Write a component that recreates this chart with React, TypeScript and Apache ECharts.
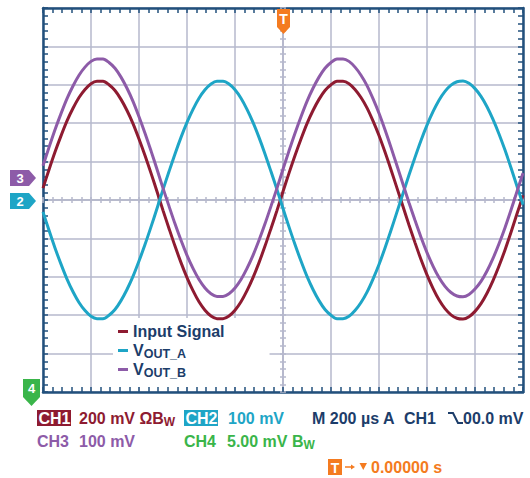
import React, { useEffect, useRef } from "react";
import * as echarts from "echarts";

// Time axis (µs), trigger at 0, 200 µs/div
const timeUs = [
  -1000, -975, -950, -925, -900, -875, -850, -825, -800, -775,
  -750, -725, -700, -675, -650, -625, -600, -575, -550, -525,
  -500, -475, -450, -425, -400, -375, -350, -325, -300, -275,
  -250, -225, -200, -175, -150, -125, -100, -75, -50, -25,
  0, 25, 50, 75, 100, 125, 150, 175, 200, 225,
  250, 275, 300, 325, 350, 375, 400, 425, 450, 475,
  500, 525, 550, 575, 600, 625, 650, 675, 700, 725,
  750, 775, 800, 825, 850, 875, 900, 925, 950, 975,
  1000,
];

// Values in screen divisions
const inputSignal = [
  0.31, 0.79, 1.25, 1.67, 2.06, 2.39, 2.67, 2.88, 3.03, 3.09,
  3.09, 3.0, 2.85, 2.62, 2.33, 1.99, 1.59, 1.16, 0.7, 0.22,
  -0.27, -0.74, -1.2, -1.63, -2.02, -2.36, -2.65, -2.87, -3.02, -3.09,
  -3.09, -3.02, -2.87, -2.65, -2.36, -2.02, -1.63, -1.2, -0.74, -0.27,
  0.22, 0.7, 1.16, 1.59, 1.99, 2.33, 2.62, 2.85, 3.0, 3.09,
  3.09, 3.03, 2.88, 2.67, 2.4, 2.06, 1.68, 1.25, 0.79, 0.31,
  -0.17, -0.65, -1.11, -1.55, -1.95, -2.3, -2.6, -2.83, -2.99, -3.08,
  -3.1, -3.04, -2.9, -2.7, -2.43, -2.1, -1.72, -1.3, -0.84, -0.36,
  0.12,
];
const voutA = [
  -0.31, -0.79, -1.25, -1.67, -2.06, -2.39, -2.67, -2.88, -3.03, -3.09,
  -3.09, -3.0, -2.85, -2.62, -2.33, -1.99, -1.59, -1.16, -0.7, -0.22,
  0.27, 0.74, 1.2, 1.63, 2.02, 2.36, 2.65, 2.87, 3.02, 3.09,
  3.09, 3.02, 2.87, 2.65, 2.36, 2.02, 1.63, 1.2, 0.74, 0.27,
  -0.22, -0.7, -1.16, -1.59, -1.99, -2.33, -2.62, -2.85, -3.0, -3.09,
  -3.09, -3.03, -2.88, -2.67, -2.4, -2.06, -1.68, -1.25, -0.79, -0.31,
  0.17, 0.65, 1.11, 1.55, 1.95, 2.3, 2.6, 2.83, 2.99, 3.08,
  3.1, 3.04, 2.9, 2.7, 2.43, 2.1, 1.72, 1.3, 0.84, 0.36,
  -0.12,
];
const voutB = [
  0.89, 1.37, 1.83, 2.25, 2.64, 2.97, 3.25, 3.46, 3.61, 3.67,
  3.67, 3.58, 3.43, 3.2, 2.91, 2.57, 2.17, 1.74, 1.28, 0.8,
  0.31, -0.16, -0.62, -1.05, -1.44, -1.78, -2.07, -2.29, -2.44, -2.51,
  -2.51, -2.44, -2.29, -2.07, -1.78, -1.44, -1.05, -0.62, -0.16, 0.31,
  0.8, 1.28, 1.74, 2.17, 2.57, 2.91, 3.2, 3.43, 3.58, 3.67,
  3.67, 3.61, 3.46, 3.25, 2.98, 2.64, 2.26, 1.83, 1.37, 0.89,
  0.41, -0.07, -0.53, -0.97, -1.37, -1.72, -2.02, -2.25, -2.41, -2.5,
  -2.52, -2.46, -2.32, -2.12, -1.85, -1.52, -1.14, -0.72, -0.26, 0.22,
  0.7,
];

const seriesNames = ["Input Signal", "VOUT_A", "VOUT_B"];
const xRange = [-1000, 1000];
const xStep = 200;
const yRange = [-5, 5];
const yStep = 1;

const FONT = "'Liberation Sans', Arial, Helvetica, sans-serif";
const INK = "#1c3d6a";
const BORDER = "#22507c";
const GRID = "#b6b9cc";
const RED = "#8e1b31";
const CYAN = "#1ea5c6";
const PURPLE = "#8d5ba8";
const GREEN = "#3ab54a";
const ORANGE = "#f47b20";

function txt(x: number, y: number, text: string, fill: string, extra: any = {}) {
  return {
    type: "text",
    z: 20,
    style: {
      x,
      y,
      text,
      fill,
      fontFamily: FONT,
      fontWeight: "bold",
      fontSize: 16,
      verticalAlign: "middle",
      align: "left",
      ...extra,
    },
  };
}

function subText(x: number, y: number, main: string, sub: string, fill: string) {
  return {
    type: "text",
    z: 20,
    style: {
      x,
      y,
      text: main + "{w|" + sub + "}",
      fill,
      fontFamily: FONT,
      fontWeight: "bold",
      fontSize: 16,
      lineHeight: 20,
      verticalAlign: "middle",
      align: "left",
      rich: {
        w: {
          fontFamily: FONT,
          fontWeight: "bold",
          fontSize: 12,
          lineHeight: 10,
          fill,
          verticalAlign: "bottom",
        },
      },
    },
  };
}

function box(x: number, y: number, w: number, h: number, fill: string) {
  return { type: "rect", z: 19, shape: { x, y, width: w, height: h }, style: { fill } };
}

function poly(points: number[][], fill: string) {
  return { type: "polygon", z: 19, shape: { points }, style: { fill } };
}

const borderX = (position: string) => ({
  type: "value",
  position,
  min: xRange[0],
  max: xRange[1],
  interval: xStep,
  axisLine: { show: true, onZero: false, lineStyle: { color: BORDER, width: 2.5 } },
  axisTick: { show: true, inside: true, length: 5, lineStyle: { color: BORDER, width: 1.5 } },
  minorTick: { show: true, splitNumber: 5, length: 5, lineStyle: { color: BORDER, width: 1.5 } },
  axisLabel: { show: false },
  splitLine: { show: position === "bottom", lineStyle: { color: GRID, width: 1.5 } },
});

const borderY = (position: string) => ({
  type: "value",
  position,
  min: yRange[0],
  max: yRange[1],
  interval: yStep,
  axisLine: { show: true, onZero: false, lineStyle: { color: BORDER, width: 2.5 } },
  axisTick: { show: true, inside: true, length: 5, lineStyle: { color: BORDER, width: 1.5 } },
  minorTick: { show: true, splitNumber: 5, length: 5, lineStyle: { color: BORDER, width: 1.5 } },
  axisLabel: { show: false },
  splitLine: { show: position === "left", lineStyle: { color: GRID, width: 1.5 } },
});

const crossX = (inside: boolean) => ({
  type: "value",
  position: "bottom",
  min: xRange[0],
  max: xRange[1],
  interval: xStep,
  axisLine: { show: true, onZero: true, onZeroAxisIndex: 0, lineStyle: { color: GRID, width: 1.5 } },
  axisTick: { show: true, inside, length: 3, lineStyle: { color: GRID, width: 1.5 } },
  minorTick: { show: true, splitNumber: 5, length: 3, lineStyle: { color: GRID, width: 1.5 } },
  axisLabel: { show: false },
  splitLine: { show: false },
});

const crossY = (inside: boolean) => ({
  type: "value",
  position: "left",
  min: yRange[0],
  max: yRange[1],
  interval: yStep,
  axisLine: { show: true, onZero: true, onZeroAxisIndex: 0, lineStyle: { color: GRID, width: 1.5 } },
  axisTick: { show: true, inside, length: 3, lineStyle: { color: GRID, width: 1.5 } },
  minorTick: { show: true, splitNumber: 5, length: 3, lineStyle: { color: GRID, width: 1.5 } },
  axisLabel: { show: false },
  splitLine: { show: false },
});

export default function App() {
  const ref = useRef<HTMLDivElement>(null);

  useEffect(() => {
    if (!ref.current) return;
    const chart = echarts.init(ref.current, null, { renderer: "svg" });
    const values = [inputSignal, voutA, voutB];
    const colors = [RED, CYAN, PURPLE];

    const graphic: any[] = [
      // trigger marker (top)
      poly([[277, 9], [290, 9], [290, 27], [283.5, 34], [277, 27]], ORANGE),
      txt(283.5, 18.5, "T", "#fff", { align: "center", fontSize: 14 }),
      // channel 3 / 2 ground markers
      poly([[10, 170], [29, 170], [36, 178], [29, 186], [10, 186]], PURPLE),
      txt(20, 178.5, "3", "#fff", { align: "center", fontSize: 13 }),
      poly([[10, 193], [29, 193], [36, 201], [29, 209], [10, 209]], CYAN),
      txt(20, 201.5, "2", "#fff", { align: "center", fontSize: 13 }),
      // channel 4 marker
      poly([[23, 379], [40, 379], [40, 397], [31.5, 406], [23, 397]], GREEN),
      txt(31.5, 388.5, "4", "#fff", { align: "center", fontSize: 13 }),

      // line 1
      box(37, 410, 34, 16, RED),
      txt(38.5, 418.5, "CH1", "#fff"),
      subText(79, 418, "200 mV ΩB", "W", RED),
      box(184, 410, 34, 16, CYAN),
      txt(185.5, 418.5, "CH2", "#fff"),
      txt(228, 418.5, "100 mV", CYAN),
      txt(312, 418.5, "M 200 µs A", INK),
      txt(404, 418.5, "CH1", INK),
      {
        type: "polyline",
        z: 20,
        shape: { points: [[448, 413], [453, 413], [458, 423], [463, 423]] },
        style: { stroke: INK, lineWidth: 2, fill: "none" },
      },
      txt(463, 418.5, "00.0 mV", INK),

      // line 2
      txt(37, 441.5, "CH3", PURPLE),
      txt(79, 441.5, "100 mV", PURPLE),
      txt(184, 441.5, "CH4", GREEN),
      subText(227, 441, "5.00 mV B", "W", GREEN),

      // line 3
      box(328, 459, 14, 16, ORANGE),
      txt(335, 467.5, "T", "#fff", { align: "center", fontSize: 14 }),
      {
        type: "line",
        z: 20,
        shape: { x1: 345, y1: 467, x2: 352, y2: 467 },
        style: { stroke: ORANGE, lineWidth: 1.5 },
      },
      poly([[351, 464.5], [355, 467], [351, 469.5]], ORANGE),
      poly([[359.5, 463], [367, 463], [363.25, 470]], ORANGE),
      txt(371, 467.5, "0.00000 s", ORANGE),
    ];

    chart.setOption({
      animation: false,
      backgroundColor: "#fff",
      grid: {
        left: 43,
        top: 8,
        width: 480,
        height: 384,
        outerBoundsMode: "none",
        containLabel: false,
      },
      xAxis: [borderX("bottom"), borderX("top"), crossX(true), crossX(false)],
      yAxis: [borderY("left"), borderY("right"), crossY(true), crossY(false)],
      legend: {
        data: seriesNames,
        orient: "vertical",
        left: 113,
        top: 318,
        padding: [4, 45, 8, 5],
        backgroundColor: "#fff",
        itemWidth: 10,
        itemHeight: 3,
        itemGap: 0,
        icon: "rect",
        z: 1,
        selectedMode: false,
        formatter: (name: string) =>
          name === "VOUT_A" ? "{v|V}{s|OUT_A}" : name === "VOUT_B" ? "{v|V}{s|OUT_B}" : name,
        textStyle: {
          color: INK,
          fontFamily: FONT,
          fontWeight: "bold",
          fontSize: 16,
          lineHeight: 19,
          rich: {
            v: { color: INK, fontFamily: FONT, fontWeight: "bold", fontSize: 16, lineHeight: 19 },
            s: {
              color: INK,
              fontFamily: FONT,
              fontWeight: "bold",
              fontSize: 12.5,
              lineHeight: 11,
              verticalAlign: "bottom",
            },
          },
        },
      },
      series: seriesNames.map((name, i) => ({
        name,
        type: "line",
        xAxisIndex: 0,
        yAxisIndex: 0,
        data: timeUs.map((t, k) => [t, values[i][k]]),
        smooth: 0.3,
        showSymbol: false,
        symbol: "none",
        lineStyle: { color: colors[i], width: 3 },
        itemStyle: { color: colors[i] },
        z: 3,
      })),
      graphic,
    });

    return () => chart.dispose();
  }, []);

  return (
    <div
      ref={ref}
      style={{ position: "absolute", left: 0, top: 0, width: 530, height: 478 }}
    />
  );
}
